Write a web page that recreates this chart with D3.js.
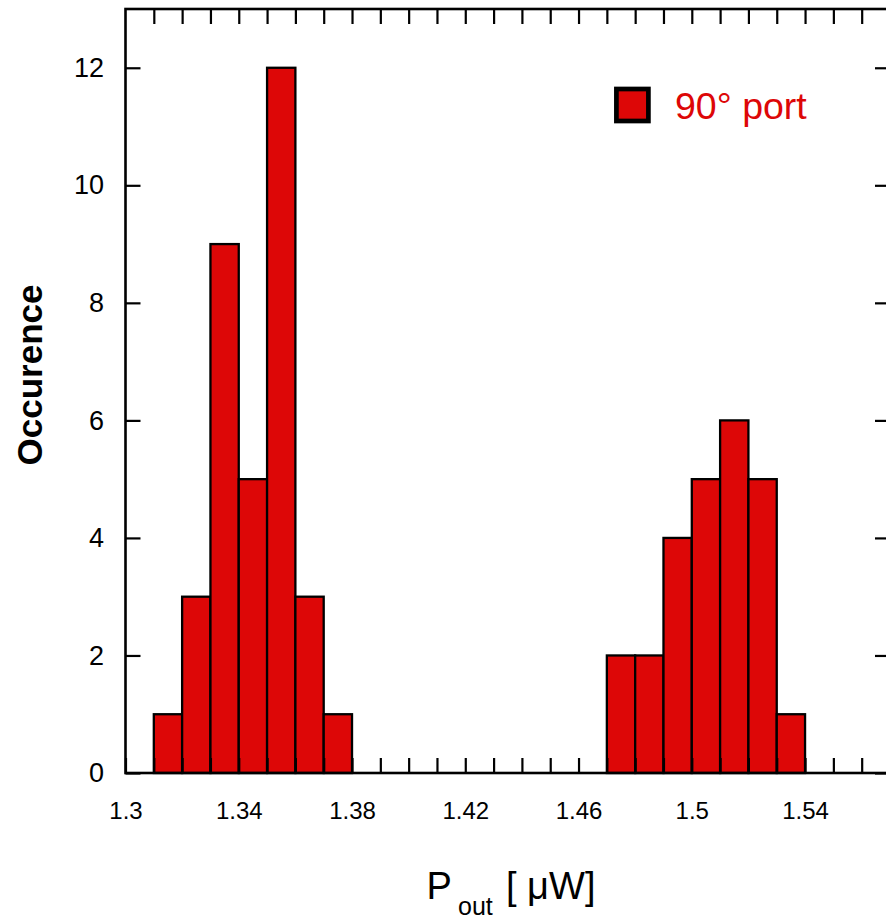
<!DOCTYPE html>
<html>
<head>
<meta charset="utf-8">
<script src="https://cdn.jsdelivr.net/npm/d3@7/dist/d3.min.js"></script>
<style>
  html, body { margin: 0; padding: 0; background: #fff; }
  svg { display: block; font-family: "Liberation Sans", Arial, Helvetica, sans-serif; }
</style>
</head>
<body>
<svg id="chart" width="886" height="924"></svg>
<script>
// Histogram of output power at the 90° port (bin width 0.01 µW)
const binStarts = [1.31, 1.32, 1.33, 1.34, 1.35, 1.36, 1.37,
                   1.47, 1.48, 1.49, 1.50, 1.51, 1.52, 1.53];
const counts    = [1, 3, 9, 5, 12, 3, 1,
                   2, 2, 4, 5, 6, 5, 1];
const binWidth = 0.01;
const xTickValues = d3.range(130, 157).map(d => d / 100);
const xLabelValues = [1.3, 1.34, 1.38, 1.42, 1.46, 1.5, 1.54];
const yTickValues = [0, 2, 4, 6, 8, 10, 12];
const seriesName = "90° port";

const barColor = "#dd0707";
const svg = d3.select("#chart");

const plotLeft = 125.5, plotRight = 890, plotTop = 9, plotBottom = 773;
const x = d3.scaleLinear().domain([1.3, 1.57]).range([plotLeft, plotRight]);
const y = d3.scaleLinear().domain([0, 13]).range([plotBottom, plotTop]);

// bars
svg.append("g")
  .selectAll("rect")
  .data(binStarts.map((s, i) => ({ s, c: counts[i] })))
  .join("rect")
  .attr("x", d => x(d.s))
  .attr("y", d => y(d.c))
  .attr("width", d => x(d.s + binWidth) - x(d.s))
  .attr("height", d => y(0) - y(d.c))
  .attr("fill", barColor)
  .attr("stroke", "#000")
  .attr("stroke-width", 2.3);

const isLabel = d => xLabelValues.some(v => Math.abs(v - d) < 1e-9);
const fmt = d => isLabel(d) ? String(+d.toFixed(2)) : "";

function styleAxis(g, fontSize) {
  g.select(".domain").remove();
  g.selectAll(".tick line").attr("stroke", "#000").attr("stroke-width", 2.2);
  g.selectAll(".tick text").attr("fill", "#000").attr("font-size", fontSize)
    .attr("font-family", "'Liberation Sans', Arial, Helvetica, sans-serif");
}

// bottom axis with inward ticks
svg.append("g")
  .attr("transform", `translate(0,${plotBottom})`)
  .call(d3.axisBottom(x).tickValues(xTickValues).tickFormat(fmt)
    .tickSizeInner(-15).tickSizeOuter(0).tickPadding(29))
  .call(g => styleAxis(g, 24));

// top axis
svg.append("g")
  .attr("transform", `translate(0,${plotTop})`)
  .call(d3.axisTop(x).tickValues(xTickValues.slice(1)).tickFormat("")
    .tickSizeInner(-15).tickSizeOuter(0))
  .call(g => styleAxis(g, 24));

// left axis
svg.append("g")
  .attr("transform", `translate(${plotLeft},0)`)
  .call(d3.axisLeft(y).tickValues(yTickValues).tickFormat(d3.format("d"))
    .tickSizeInner(-15).tickSizeOuter(0).tickPadding(21.5))
  .call(g => styleAxis(g, 27));

// right axis
svg.append("g")
  .attr("transform", `translate(${plotRight},0)`)
  .call(d3.axisRight(y).tickValues(yTickValues).tickFormat("")
    .tickSizeInner(-15).tickSizeOuter(0))
  .call(g => styleAxis(g, 27));

// frame
svg.append("rect")
  .attr("x", plotLeft).attr("y", plotTop)
  .attr("width", plotRight - plotLeft).attr("height", plotBottom - plotTop)
  .attr("fill", "none").attr("stroke", "#000").attr("stroke-width", 2.6);

// legend
svg.append("rect")
  .attr("x", 616.4).attr("y", 89).attr("width", 32).attr("height", 32)
  .attr("fill", barColor).attr("stroke", "#000").attr("stroke-width", 4.7);
svg.append("text")
  .attr("x", 675).attr("y", 119.3)
  .attr("font-size", 37.5).attr("fill", barColor)
  .text(seriesName);

// y title
svg.append("text")
  .attr("transform", "translate(41.5,375) rotate(-90)")
  .attr("text-anchor", "middle")
  .attr("font-size", 35).attr("font-weight", "bold").attr("fill", "#000")
  .text("Occurence");

// x title: P_out [ µW]
svg.append("text").attr("x", 426.5).attr("y", 899)
  .attr("font-size", 38).attr("fill", "#000").text("P");
svg.append("text").attr("x", 458).attr("y", 915)
  .attr("font-size", 25).attr("fill", "#000").text("out");
svg.append("text").attr("x", 506).attr("y", 899)
  .attr("font-size", 38).attr("fill", "#000").attr("xml:space", "preserve")
  .text("[ μW]");
</script>
</body>
</html>
